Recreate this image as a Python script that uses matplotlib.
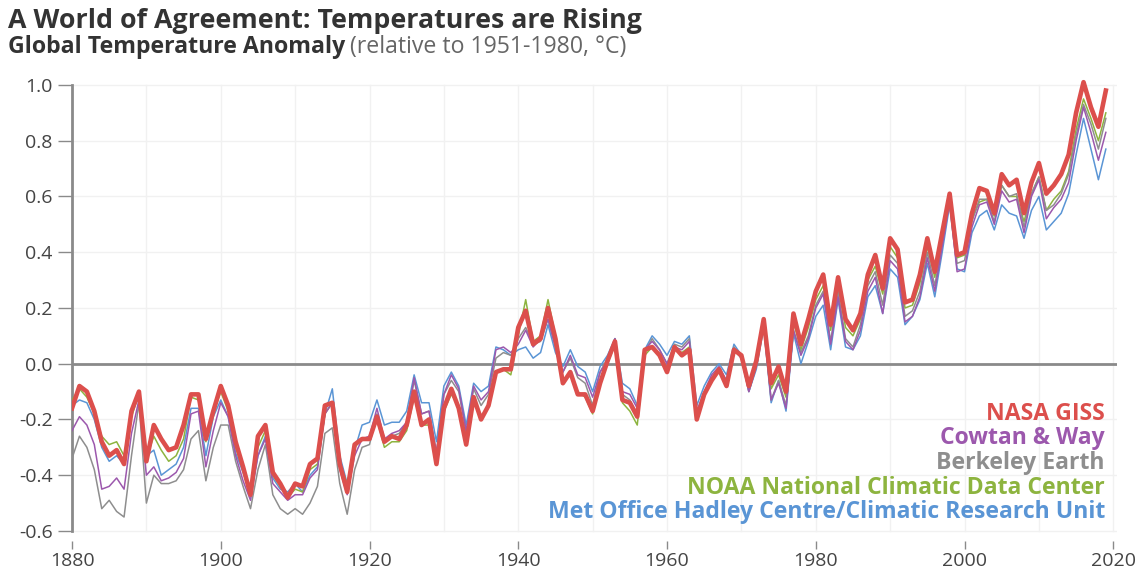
import numpy as np
import matplotlib
matplotlib.use('Agg')
import matplotlib.pyplot as plt

# data: annual global temperature anomaly (relative to 1951-1980, degC)
years = np.arange(1880, 2020)

nasa_giss = [
    -0.16, -0.08, -0.10, -0.17, -0.28, -0.33, -0.31, -0.36, -0.17, -0.10,
    -0.35, -0.22, -0.27, -0.31, -0.30, -0.22, -0.11, -0.11, -0.27, -0.17,
    -0.08, -0.15, -0.28, -0.37, -0.47, -0.26, -0.22, -0.39, -0.43, -0.48,
    -0.43, -0.44, -0.36, -0.34, -0.15, -0.14, -0.36, -0.46, -0.29, -0.27,
    -0.27, -0.19, -0.28, -0.26, -0.27, -0.22, -0.10, -0.22, -0.20, -0.36,
    -0.16, -0.09, -0.16, -0.29, -0.12, -0.20, -0.15, -0.03, -0.02, -0.02,
    0.13, 0.19, 0.07, 0.09, 0.20, 0.09, -0.07, -0.03, -0.11, -0.11,
    -0.17, -0.07, 0.01, 0.08, -0.13, -0.14, -0.19, 0.05, 0.06, 0.03,
    -0.03, 0.06, 0.03, 0.05, -0.20, -0.11, -0.06, -0.02, -0.08, 0.05,
    0.03, -0.08, 0.01, 0.16, -0.07, -0.01, -0.10, 0.18, 0.07, 0.16,
    0.26, 0.32, 0.14, 0.31, 0.16, 0.12, 0.18, 0.32, 0.39, 0.27,
    0.45, 0.41, 0.22, 0.23, 0.32, 0.45, 0.33, 0.47, 0.61, 0.39,
    0.40, 0.54, 0.63, 0.62, 0.54, 0.68, 0.64, 0.66, 0.54, 0.65,
    0.72, 0.61, 0.64, 0.68, 0.75, 0.90, 1.01, 0.92, 0.85, 0.98]

cowtan_way = [
    -0.24, -0.19, -0.22, -0.29, -0.45, -0.44, -0.41, -0.45, -0.25, -0.13,
    -0.40, -0.37, -0.42, -0.41, -0.39, -0.34, -0.18, -0.17, -0.37, -0.24,
    -0.14, -0.19, -0.33, -0.42, -0.49, -0.33, -0.27, -0.43, -0.46, -0.49,
    -0.47, -0.47, -0.41, -0.38, -0.18, -0.14, -0.38, -0.47, -0.33, -0.27,
    -0.26, -0.16, -0.27, -0.25, -0.24, -0.21, -0.05, -0.18, -0.17, -0.32,
    -0.11, -0.04, -0.09, -0.24, -0.08, -0.13, -0.10, 0.05, 0.06, 0.04,
    0.07, 0.12, 0.06, 0.09, 0.16, 0.06, -0.03, 0.03, -0.04, -0.05,
    -0.12, -0.03, 0.01, 0.09, -0.10, -0.11, -0.16, 0.05, 0.08, 0.05,
    0.00, 0.06, 0.05, 0.08, -0.17, -0.10, -0.04, -0.01, -0.06, 0.05,
    0.02, -0.10, -0.01, 0.14, -0.13, -0.07, -0.16, 0.12, 0.03, 0.09,
    0.20, 0.25, 0.07, 0.24, 0.08, 0.05, 0.12, 0.26, 0.31, 0.18,
    0.37, 0.34, 0.15, 0.17, 0.24, 0.38, 0.26, 0.42, 0.58, 0.33,
    0.34, 0.49, 0.57, 0.58, 0.50, 0.62, 0.58, 0.59, 0.47, 0.60,
    0.66, 0.52, 0.56, 0.59, 0.65, 0.80, 0.92, 0.83, 0.73, 0.83]

berkeley = [
    -0.34, -0.26, -0.30, -0.38, -0.52, -0.49, -0.53, -0.55, -0.33, -0.14,
    -0.50, -0.40, -0.43, -0.43, -0.42, -0.38, -0.27, -0.24, -0.42, -0.30,
    -0.22, -0.22, -0.35, -0.44, -0.52, -0.38, -0.29, -0.47, -0.52, -0.54,
    -0.52, -0.54, -0.50, -0.44, -0.25, -0.23, -0.43, -0.54, -0.38, -0.30,
    -0.29, -0.18, -0.27, -0.26, -0.25, -0.21, -0.06, -0.18, -0.17, -0.32,
    -0.11, -0.06, -0.10, -0.25, -0.09, -0.15, -0.11, 0.02, 0.04, 0.03,
    0.09, 0.13, 0.07, 0.08, 0.16, 0.06, -0.03, 0.02, -0.05, -0.07,
    -0.15, -0.03, 0.02, 0.09, -0.11, -0.13, -0.18, 0.04, 0.09, 0.05,
    0.00, 0.07, 0.06, 0.09, -0.19, -0.11, -0.05, -0.02, -0.06, 0.06,
    0.02, -0.10, -0.01, 0.13, -0.13, -0.06, -0.15, 0.12, 0.04, 0.10,
    0.21, 0.26, 0.08, 0.26, 0.09, 0.06, 0.14, 0.28, 0.33, 0.21,
    0.39, 0.36, 0.17, 0.19, 0.26, 0.40, 0.28, 0.43, 0.59, 0.36,
    0.37, 0.51, 0.59, 0.59, 0.51, 0.64, 0.60, 0.61, 0.49, 0.61,
    0.67, 0.55, 0.57, 0.61, 0.68, 0.82, 0.93, 0.86, 0.77, 0.88]

noaa = [
    -0.13, -0.09, -0.12, -0.18, -0.26, -0.29, -0.28, -0.33, -0.19, -0.11,
    -0.34, -0.26, -0.31, -0.35, -0.33, -0.27, -0.12, -0.13, -0.28, -0.18,
    -0.10, -0.17, -0.30, -0.38, -0.47, -0.30, -0.24, -0.40, -0.44, -0.48,
    -0.45, -0.46, -0.38, -0.36, -0.18, -0.14, -0.36, -0.43, -0.30, -0.27,
    -0.27, -0.20, -0.30, -0.28, -0.28, -0.24, -0.12, -0.22, -0.22, -0.35,
    -0.17, -0.11, -0.15, -0.29, -0.14, -0.19, -0.15, -0.03, -0.02, -0.04,
    0.10, 0.23, 0.08, 0.10, 0.23, 0.10, -0.06, -0.04, -0.10, -0.12,
    -0.18, -0.06, 0.00, 0.07, -0.14, -0.17, -0.22, 0.03, 0.06, 0.03,
    -0.02, 0.05, 0.04, 0.06, -0.19, -0.11, -0.06, -0.03, -0.07, 0.05,
    0.02, -0.09, 0.00, 0.14, -0.09, -0.04, -0.12, 0.15, 0.05, 0.13,
    0.23, 0.28, 0.12, 0.29, 0.13, 0.10, 0.16, 0.30, 0.35, 0.25,
    0.42, 0.38, 0.20, 0.21, 0.29, 0.42, 0.31, 0.45, 0.60, 0.38,
    0.39, 0.52, 0.58, 0.59, 0.53, 0.64, 0.60, 0.60, 0.51, 0.61,
    0.67, 0.55, 0.59, 0.62, 0.69, 0.84, 0.95, 0.88, 0.80, 0.90]

hadcrut = [
    -0.15, -0.13, -0.14, -0.20, -0.30, -0.35, -0.33, -0.36, -0.17, -0.12,
    -0.33, -0.31, -0.40, -0.38, -0.36, -0.30, -0.16, -0.16, -0.33, -0.19,
    -0.13, -0.19, -0.32, -0.39, -0.47, -0.33, -0.26, -0.41, -0.45, -0.46,
    -0.43, -0.46, -0.40, -0.37, -0.18, -0.09, -0.33, -0.43, -0.31, -0.22,
    -0.21, -0.13, -0.22, -0.21, -0.21, -0.17, -0.04, -0.14, -0.14, -0.28,
    -0.08, -0.03, -0.08, -0.22, -0.07, -0.10, -0.08, 0.06, 0.05, 0.03,
    0.05, 0.06, 0.02, 0.04, 0.14, 0.04, -0.01, 0.05, -0.01, -0.03,
    -0.10, -0.01, 0.03, 0.09, -0.07, -0.09, -0.15, 0.05, 0.10, 0.07,
    0.03, 0.08, 0.07, 0.10, -0.15, -0.08, -0.03, 0.00, -0.04, 0.07,
    0.03, -0.10, -0.02, 0.13, -0.14, -0.06, -0.17, 0.11, 0.00, 0.08,
    0.17, 0.21, 0.05, 0.23, 0.06, 0.05, 0.10, 0.24, 0.28, 0.18,
    0.34, 0.31, 0.14, 0.17, 0.23, 0.36, 0.24, 0.40, 0.57, 0.34,
    0.33, 0.47, 0.53, 0.55, 0.48, 0.57, 0.54, 0.53, 0.45, 0.55,
    0.60, 0.48, 0.51, 0.54, 0.61, 0.75, 0.88, 0.77, 0.66, 0.77]

series_names = ['NASA GISS', 'Cowtan & Way', 'Berkeley Earth',
                'NOAA National Climatic Data Center',
                'Met Office Hadley Centre/Climatic Research Unit']
series_data = [nasa_giss, cowtan_way, berkeley, noaa, hadcrut]
series_colors = ['#dc4f4c', '#9c58ad', '#8e8e8e', '#8db43f', '#5a95d5']

plt.rcParams['font.family'] = ['Open Sans', 'DejaVu Sans']

W, H = 1145, 573
fig = plt.figure(figsize=(W / 100, H / 100), dpi=100)
x0, x1 = 72, 1117
y_top, y_bot = 78, 541
ax = fig.add_axes([x0 / W, 1 - y_bot / H, (x1 - x0) / W, (y_bot - y_top) / H])
ax.set_xlim(1880, 2020.5)
ax.set_ylim(-0.636, 1.025)

# faint grid
for yv in np.arange(-0.6, 1.01, 0.2):
    ax.axhline(yv, color='#f1f1f1', lw=1, zorder=0)
for xv in range(1890, 2021, 10):
    ax.plot([xv, xv], [-0.6, 1.0], color='#f1f1f1', lw=1, zorder=0)
ax.axhline(0, color='#8a8a8a', lw=2, zorder=1)

# thin lines first, NASA GISS on top
for name, vals, col in list(zip(series_names, series_data, series_colors))[::-1]:
    if name == 'NASA GISS':
        ax.plot(years, vals, color=col, lw=3.3, zorder=5, solid_joinstyle='round')
    else:
        ax.plot(years, vals, color=col, lw=1.1, zorder=3)

for s in ['top', 'right', 'bottom']:
    ax.spines[s].set_visible(False)
ax.spines['left'].set_bounds(-0.6, 1.0)
ax.spines['left'].set_color('#8a8a8a')
ax.spines['left'].set_linewidth(2)

ax.set_yticks(np.arange(-0.6, 1.01, 0.2))
ax.set_yticklabels(['%.1f' % v for v in np.arange(-0.6, 1.01, 0.2)])
ax.set_xticks(range(1880, 2021, 20))
ax.tick_params(axis='y', length=10, width=1, color='#8a8a8a', labelsize=14,
               labelcolor='#444444', pad=4)
ax.tick_params(axis='x', length=6, width=1, color='#8a8a8a', labelsize=14,
               labelcolor='#444444', pad=2)


def fit_width(txt, target_px):
    # scale the font so the text spans the same width as in the reference
    fig.canvas.draw()
    w = txt.get_window_extent().width
    txt.set_fontsize(txt.get_fontsize() * target_px / w)


# titles
title = fig.text(8 / W, 1 - 21 / H, 'A World of Agreement: Temperatures are Rising',
                 fontsize=17, fontweight='bold', color='#333333', va='center', ha='left')
fit_width(title, 632)
sub = fig.text(8 / W, 1 - 47 / H, 'Global Temperature Anomaly', fontsize=13.5,
               fontweight='bold', color='#333333', va='center', ha='left')
fit_width(sub, 338)
fig.canvas.draw()
bb = sub.get_window_extent()
fig.text((bb.x1 + 5) / W, 1 - 47 / H, '(relative to 1951-1980, °C)',
         fontsize=sub.get_fontsize(), color='#666666', va='center', ha='left')

# legend as coloured labels
labels = []
for i, (name, col) in enumerate(zip(series_names, series_colors)):
    labels.append(fig.text(1105 / W, 1 - (414 + i * 24.5) / H, name, fontsize=14,
                           fontweight='bold', color=col, ha='right', va='center'))
fit_width(labels[-1], 560)
for t in labels[:-1]:
    t.set_fontsize(labels[-1].get_fontsize())

fig.savefig('out.png', dpi=100)
